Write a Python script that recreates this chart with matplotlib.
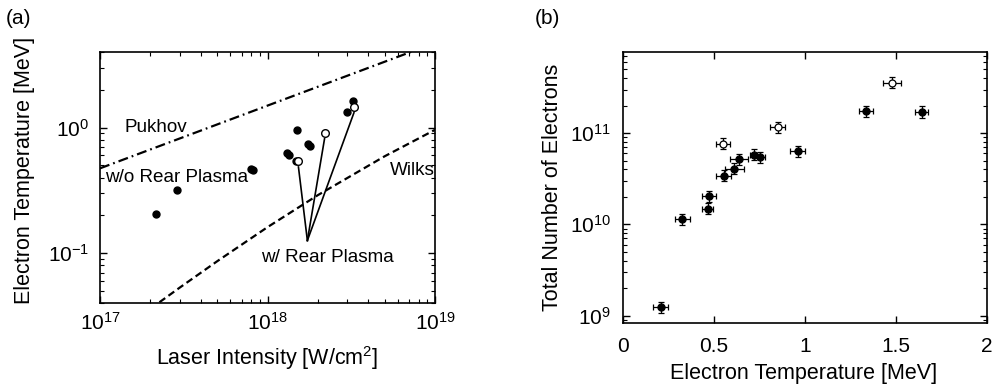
import matplotlib
matplotlib.use("Agg")
import matplotlib.pyplot as plt
import numpy as np

plt.rcParams['font.family'] = ['Liberation Sans', 'DejaVu Sans']
plt.rcParams['mathtext.fontset'] = 'custom'
plt.rcParams['mathtext.rm'] = 'Liberation Sans'

LABEL_SIZE = 15.5
TICK_A = 15
TICK_B = 15
NOTE_SIZE = 13.6

# (a) electron temperature vs laser intensity
a_filled_I = [2.16e17, 2.88e17, 7.97e17, 8.2e17, 1.30e18, 1.35e18, 1.49e18, 1.48e18,
              1.75e18, 1.79e18, 2.97e18, 3.25e18]
a_filled_T = [0.204, 0.319, 0.467, 0.46, 0.627, 0.608, 0.952, 0.545,
              0.74, 0.71, 1.33, 1.63]
a_open_I = [1.53e18, 2.19e18, 3.28e18]
a_open_T = [0.54, 0.906, 1.46]

# theory curves
pukhov_I = [1e17, 1e19]
pukhov_T = [0.474, 4.74]
wilks_I = [2e17, 3e17, 5e17, 1e18, 2e18, 5e18, 1e19]
wilks_T = [0.036, 0.0532, 0.086, 0.161, 0.290, 0.591, 0.961]

# convergence point of the "w/ Rear Plasma" pointer lines
pointer_I = 1.73e18
pointer_T = 0.126

# (b) total number of electrons vs electron temperature
b_filled_T = [0.207, 0.326, 0.465, 0.474, 0.553, 0.612, 0.639, 0.718, 0.751, 0.960, 1.335, 1.641]
b_filled_N = [1.24e9, 1.13e10, 1.48e10, 2.04e10, 3.41e10, 4.08e10, 5.17e10, 5.77e10,
              5.43e10, 6.3e10, 1.73e11, 1.70e11]
b_filled_Terr = [0.042, 0.04, 0.029, 0.04, 0.04, 0.053, 0.05, 0.02, 0.03, 0.04, 0.04, 0.037]
b_filled_Nerr = [0.14, 0.14, 0.14, 0.14, 0.14, 0.14, 0.14, 0.14, 0.14, 0.14, 0.14, 0.14]
b_open_T = [0.551, 0.850, 1.478]
b_open_N = [7.64e10, 1.16e11, 3.56e11]
b_open_Terr = [0.04, 0.042, 0.051]
b_open_Nerr = [0.14, 0.14, 0.14]

fig = plt.figure(figsize=(9.95, 3.92), dpi=100)
ax1 = fig.add_axes([0.1005, 0.227, 0.3367, 0.640])
ax2 = fig.add_axes([0.626, 0.176, 0.366, 0.691])

# ---- panel (a)
ax1.plot(pukhov_I, pukhov_T, color='k', lw=1.6, linestyle=(0, (4.5, 1.8, 0.8, 1.8)))
ax1.plot(wilks_I, wilks_T, color='k', lw=1.6, linestyle=(0, (3.2, 1.8)))
for I, T in zip(a_open_I, a_open_T):
    ax1.plot([pointer_I, I], [pointer_T, T * 0.9], color='k', lw=1.2)
ax1.plot(a_filled_I, a_filled_T, 'o', color='k', ms=5, zorder=3)
ax1.plot(a_open_I, a_open_T, 'o', mfc='white', mec='k', mew=1, ms=5.5, zorder=4)

ax1.text(1.41e17, 1.0, 'Pukhov', fontsize=NOTE_SIZE, va='center', ha='left')
ax1.text(1.07e17, 0.40, 'w/o Rear Plasma', fontsize=NOTE_SIZE, va='center', ha='left')
ax1.text(5.4e18, 0.453, 'Wilks', fontsize=NOTE_SIZE, va='center', ha='left')
ax1.text(9.2e17, 0.093, 'w/ Rear Plasma', fontsize=NOTE_SIZE, va='center', ha='left')

ax1.set_xscale('log')
ax1.set_yscale('log')
ax1.set_xlim(1e17, 1e19)
ax1.set_ylim(0.04, 4)
ax1.set_xticks([1e17, 1e18, 1e19])
ax1.set_yticks([0.1, 1])
ax1.set_xlabel('Laser Intensity [W/cm$^2$]', fontsize=LABEL_SIZE)
ax1.set_ylabel('Electron Temperature [MeV]', fontsize=LABEL_SIZE)
ax1.xaxis.set_label_coords(0.5, -0.219)
ax1.yaxis.set_label_coords(-0.224, 0.53)

# ---- panel (b)
ax2.errorbar(b_filled_T, b_filled_N, xerr=b_filled_Terr,
             yerr=[np.array(b_filled_N) * np.array(b_filled_Nerr) * 0.93,
                   np.array(b_filled_N) * np.array(b_filled_Nerr) * 1.07],
             fmt='o', color='k', ms=5, elinewidth=0.9, capsize=2, capthick=0.9)
ax2.errorbar(b_open_T, b_open_N, xerr=b_open_Terr,
             yerr=[np.array(b_open_N) * np.array(b_open_Nerr) * 0.93,
                   np.array(b_open_N) * np.array(b_open_Nerr) * 1.07],
             fmt='o', color='k', mfc='white', mec='k', mew=0.9, ms=5,
             elinewidth=0.9, capsize=2, capthick=0.9)
ax2.set_yscale('log')
ax2.set_xlim(0, 2)
ax2.set_ylim(8.3e8, 7.7e11)
ax2.set_xticks([0, 0.5, 1, 1.5, 2])
ax2.set_xticklabels(['0', '0.5', '1', '1.5', '2'])
ax2.set_yticks([1e9, 1e10, 1e11])
ax2.set_xlabel('Electron Temperature [MeV]', fontsize=LABEL_SIZE)
ax2.set_ylabel('Total Number of Electrons', fontsize=LABEL_SIZE)
ax2.xaxis.set_label_coords(0.497, -0.185)
ax2.yaxis.set_label_coords(-0.192, 0.5)

for ax in (ax1, ax2):
    ax.tick_params(which='both', direction='in', top=True, right=True)
    ax.tick_params(which='major', length=5, width=1)
    ax.tick_params(which='minor', length=3, width=0.8)
    ax.xaxis.label.set_va('center')
    ax.yaxis.label.set_va('center')
    for s in ax.spines.values():
        s.set_linewidth(1.2)
ax1.tick_params(labelsize=TICK_A)
ax2.tick_params(labelsize=TICK_B)
ax1.tick_params(axis='x', pad=6.5)
ax1.tick_params(axis='y', pad=8)
ax2.tick_params(axis='x', pad=10)
ax2.tick_params(axis='y', pad=8.5)

fig.text(0.006, 0.978, '(a)', fontsize=15, va='top')
fig.text(0.537, 0.978, '(b)', fontsize=15, va='top')

fig.savefig('out.png', dpi=100)
